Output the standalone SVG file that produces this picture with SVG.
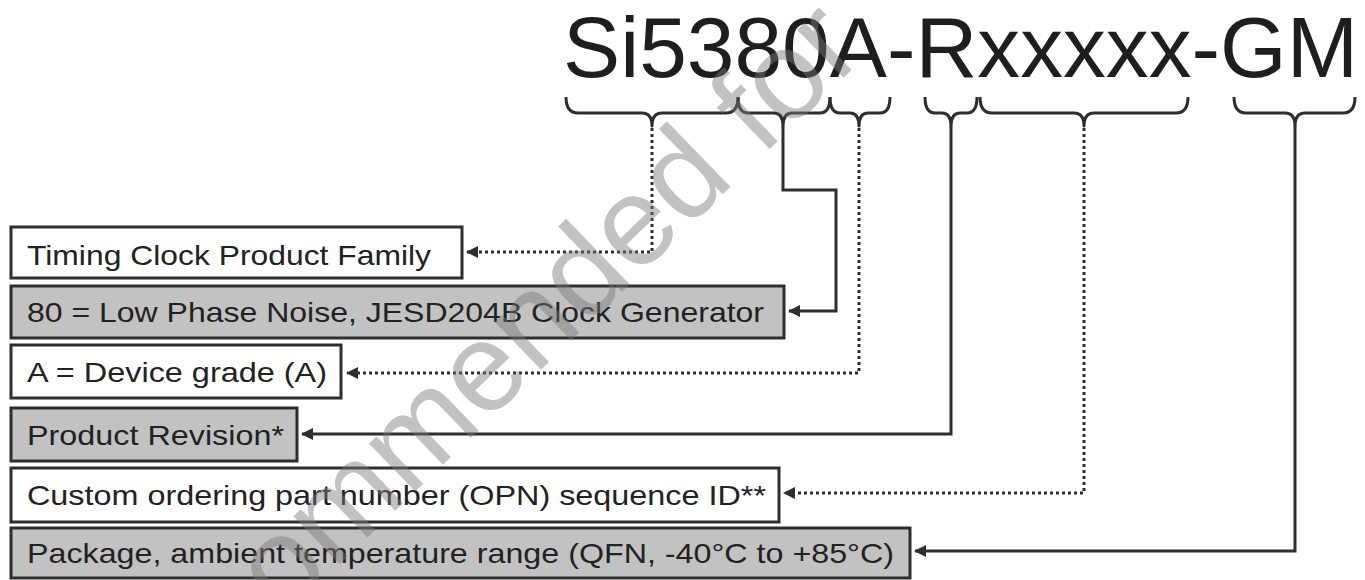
<svg xmlns="http://www.w3.org/2000/svg" width="1365" height="580" viewBox="0 0 1365 580">
<style>
.bg{fill:#ffffff}
.box{stroke:#2e2e2e;stroke-width:3}
.w{fill:#ffffff}
.g{fill:#c2c2c2}
.lbl{font-family:"Liberation Sans",Arial,sans-serif;font-size:28px;fill:#222222}
.title{font-family:"Liberation Sans",Arial,sans-serif;font-size:86px;fill:#1e1e1e}
.brace{fill:none;stroke:#2e2e2e;stroke-width:3;stroke-linejoin:round}
.solid{fill:none;stroke:#2e2e2e;stroke-width:3}
.dot{fill:none;stroke:#2e2e2e;stroke-width:3;stroke-dasharray:3 3}
.wm{font-family:"Liberation Sans",Arial,sans-serif;font-size:126px;fill:#7a7a7a;opacity:0.45}
</style>
<defs>
<marker id="ah" markerUnits="userSpaceOnUse" markerWidth="14" markerHeight="14" refX="11" refY="6" orient="auto">
<path d="M0,0 L12,6 L0,12 Z" fill="#2e2e2e"/>
</marker>
</defs>
<rect class="bg" x="0" y="0" width="1365" height="580"/>
<g id="title">
<text class="title" x="563" y="77" textLength="795" lengthAdjust="spacingAndGlyphs">Si5380A-Rxxxxx-GM</text>
</g>
<g id="braces">
<path class="brace" d="M566,97 Q566,113 578,113 L642,113 Q652,113 652,126 Q652,113 662,113 L726,113 Q738,113 738,97"/>
<path class="brace" d="M738,97 Q738,113 748,113 L774,113 Q783,113 783,126 Q783,113 792,113 L820,113 Q830,113 830,97"/>
<path class="brace" d="M830,97 Q830,113 840,113 L850,113 Q859,113 859,126 Q859,113 868,113 L880,113 Q890,113 890,97"/>
<path class="brace" d="M925,97 Q925,113 935,113 L942,113 Q951,113 951,126 Q951,113 960,113 L967,113 Q977,113 977,97"/>
<path class="brace" d="M980,97 Q980,113 992,113 L1074,113 Q1084,113 1084,126 Q1084,113 1094,113 L1176,113 Q1188,113 1188,97"/>
<path class="brace" d="M1234,97 Q1234,113 1246,113 L1285,113 Q1295,113 1295,126 Q1295,113 1305,113 L1343,113 Q1355,113 1355,97"/>
</g>
<g id="n1">
<rect class="box w" x="11" y="227" width="451" height="51"/>
<text class="lbl" x="27" y="265" textLength="404" lengthAdjust="spacingAndGlyphs">Timing Clock Product Family</text>
</g>
<g id="n2">
<rect class="box g" x="11" y="286" width="773" height="52"/>
<text class="lbl" x="27" y="322" textLength="737" lengthAdjust="spacingAndGlyphs">80 = Low Phase Noise, JESD204B Clock Generator</text>
</g>
<g id="n3">
<rect class="box w" x="11" y="345" width="330" height="53"/>
<text class="lbl" x="27" y="382" textLength="300" lengthAdjust="spacingAndGlyphs">A = Device grade (A)</text>
</g>
<g id="n4">
<rect class="box g" x="11" y="408" width="286" height="53"/>
<text class="lbl" x="27" y="445" textLength="257" lengthAdjust="spacingAndGlyphs">Product Revision*</text>
</g>
<g id="n5">
<rect class="box w" x="11" y="468" width="768" height="54"/>
<text class="lbl" x="27" y="505" textLength="739" lengthAdjust="spacingAndGlyphs">Custom ordering part number (OPN) sequence ID**</text>
</g>
<g id="n6">
<rect class="box g" x="11" y="528" width="899" height="50"/>
<text class="lbl" x="27" y="563" textLength="867" lengthAdjust="spacingAndGlyphs">Package, ambient temperature range (QFN, -40°C to +85°C)</text>
</g>
<g id="connectors">
<path class="dot" d="M652,128 V252 H467" marker-end="url(#ah)"/>
<path class="solid" d="M783,126 V190 H836 V311 H789" marker-end="url(#ah)"/>
<path class="dot" d="M859,128 V373 H347" marker-end="url(#ah)"/>
<path class="solid" d="M951,126 V434 H302" marker-end="url(#ah)"/>
<path class="dot" d="M1084,128 V493 H784" marker-end="url(#ah)"/>
<path class="solid" d="M1295,126 V551 H915" marker-end="url(#ah)"/>
</g>
<g id="watermark">
<text class="wm" transform="translate(283,619) rotate(-44)">ommended for</text>
</g>
</svg>
